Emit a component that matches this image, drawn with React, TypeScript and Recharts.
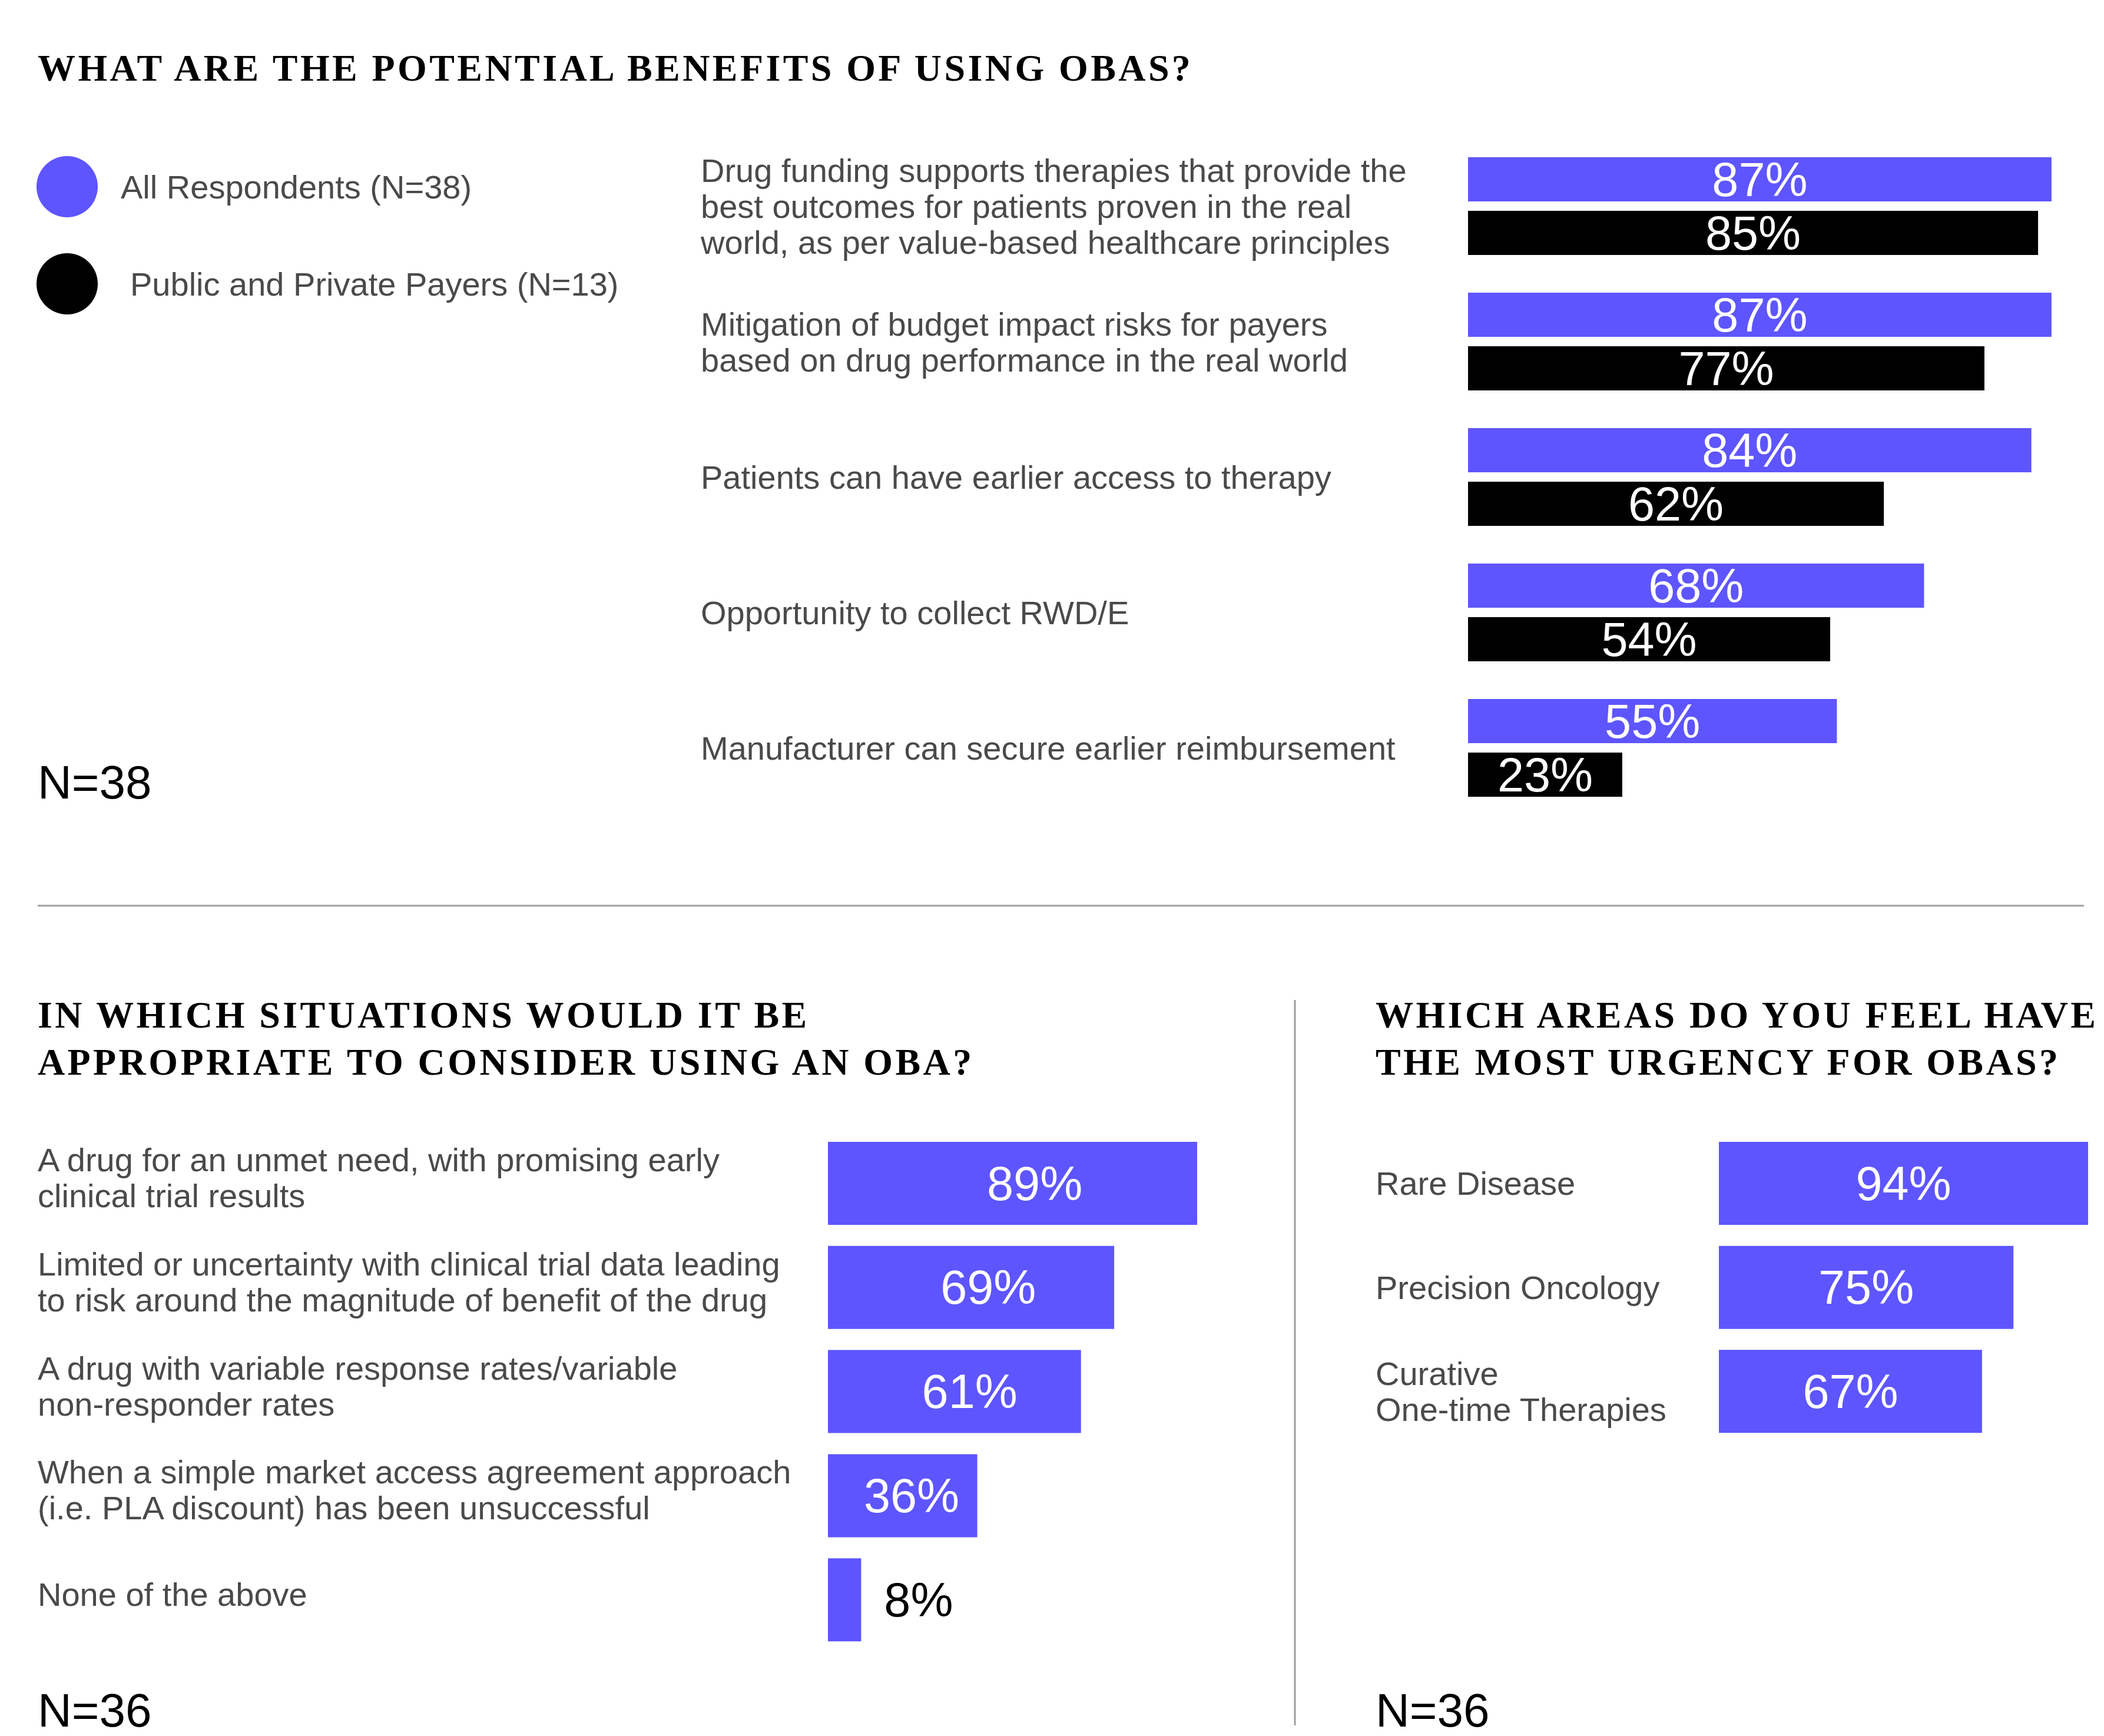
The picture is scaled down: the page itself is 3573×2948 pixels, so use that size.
import { BarChart, Bar, XAxis, YAxis, LabelList } from "recharts";

const BENEFITS = [
  "Drug funding supports therapies that provide the\nbest outcomes for patients proven in the real\nworld, as per value-based healthcare principles",
  "Mitigation of budget impact risks for payers\nbased on drug performance in the real world",
  "Patients can have earlier access to therapy",
  "Opportunity to collect RWD/E",
  "Manufacturer can secure earlier reimbursement",
];
const ALL_RESPONDENTS = [87, 87, 84, 68, 55];
const PAYERS = [85, 77, 62, 54, 23];

const SITUATIONS = [
  "A drug for an unmet need, with promising early\nclinical trial results",
  "Limited or uncertainty with clinical trial data leading\nto risk around the magnitude of benefit of the drug",
  "A drug with variable response rates/variable\nnon-responder rates",
  "When a simple market access agreement approach\n(i.e. PLA discount) has been unsuccessful",
  "None of the above",
];
const SITUATION_PCT = [89, 69, 61, 36, 8];

const AREAS = ["Rare Disease", "Precision Oncology", "Curative\nOne-time Therapies"];
const AREA_PCT = [94, 75, 67];

const SERIES = [
  { key: "all", name: "All Respondents (N=38)", color: "#5E55FE" },
  { key: "payers", name: "Public and Private Payers (N=13)", color: "#000000" },
];

const SANS = "'Liberation Sans', Arial, sans-serif";
const SERIF = "'Liberation Serif', 'Times New Roman', serif";
const GREY = "#4a4a4a";
const BLUE = "#5E55FE";

const benefitData = BENEFITS.map((label, i) => ({
  label,
  all: ALL_RESPONDENTS[i],
  payers: PAYERS[i],
}));
const situationData = SITUATIONS.map((label, i) => ({ label, pct: SITUATION_PCT[i] }));
const areaData = AREAS.map((label, i) => ({ label, pct: AREA_PCT[i] }));

function WrappedTick(props: any) {
  const { y, payload, left, dy = 0 } = props;
  const lines = String(payload.value).split("\n");
  const lh = 61;
  const start = y - ((lines.length - 1) * lh) / 2 + dy;
  return (
    <text fill={GREY} fontSize={56} fontFamily={SANS} dominantBaseline="central">
      {lines.map((l: string, i: number) => (
        <tspan key={i} x={left} y={start + i * lh}>
          {l}
        </tspan>
      ))}
    </text>
  );
}

// value label; pos = fraction of the bar width where the text is centred
function valueLabel(pos: number) {
  return (p: any) => {
    const { x, y, width, height, value } = p;
    const small = width < 100;
    return (
      <text
        x={small ? x + width + 39 : x + width * pos}
        y={y + height / 2}
        textAnchor={small ? "start" : "middle"}
        dominantBaseline="central"
        fill={small ? "#000" : "#fff"}
        fontSize={81}
        fontFamily={SANS}
      >
        {value}%
      </text>
    );
  };
}

function Title({ x, y, lines }: { x: number; y: number; lines: string[] }) {
  return (
    <text x={x} y={y} fontFamily={SERIF} fontWeight={700} fontSize={64} letterSpacing={4.4} fill="#000">
      {lines.map((l, i) => (
        <tspan key={i} x={x} y={y + i * 80}>
          {l}
        </tspan>
      ))}
    </text>
  );
}

export default function App() {
  return (
    <div
      style={{
        position: "absolute",
        left: 0,
        top: 0,
        width: 3573,
        height: 2948,
        background: "#fff",
        overflow: "hidden",
      }}
    >
      <svg width={3573} height={2948} style={{ position: "absolute", left: 0, top: 0 }}>
        <Title x={64} y={137} lines={["WHAT ARE THE POTENTIAL BENEFITS OF USING OBAS?"]} />
        <Title x={64} y={1745} lines={["IN WHICH SITUATIONS WOULD IT BE", "APPROPRIATE TO CONSIDER USING AN OBA?"]} />
        <Title x={2336} y={1745} lines={["WHICH AREAS DO YOU FEEL HAVE", "THE MOST URGENCY FOR OBAS?"]} />
        <text x={64} y={1356} fontSize={80} fontFamily={SANS} fill="#000">N=38</text>
        <text x={64} y={2932} fontSize={80} fontFamily={SANS} fill="#000">N=36</text>
        <text x={2336} y={2932} fontSize={80} fontFamily={SANS} fill="#000">N=36</text>
        <line x1={64} x2={3539} y1={1538} y2={1538} stroke="#a0a0a0" strokeWidth={3} />
        <line x1={2199} x2={2199} y1={1698} y2={2930} stroke="#a0a0a0" strokeWidth={3} />
        {SERIES.map((s, i) => (
          <g key={s.key}>
            <circle cx={114} cy={317 + i * 165} r={52} fill={s.color} />
            <text
              x={i === 0 ? 205 : 221}
              y={317 + i * 165}
              dominantBaseline="central"
              fontSize={56}
              fontFamily={SANS}
              fill={GREY}
            >
              {s.name}
            </text>
          </g>
        ))}
      </svg>

      <div style={{ position: "absolute", left: 0, top: 0 }}>
        <BarChart
          width={3573}
          height={1400}
          data={benefitData}
          layout="vertical"
          margin={{ top: 235, right: 55, bottom: 15, left: 0 }}
          barSize={75}
          barGap={16}
        >
          <XAxis type="number" domain={[0, 90]} hide />
          <YAxis
            type="category"
            dataKey="label"
            width={2493}
            axisLine={false}
            tickLine={false}
            interval={0}
            tick={(p: any) => <WrappedTick {...p} left={1190} />}
          />
          {SERIES.map((s) => (
            <Bar key={s.key} dataKey={s.key} name={s.name} fill={s.color} isAnimationActive={false}>
              <LabelList dataKey={s.key} content={valueLabel(0.5)} />
            </Bar>
          ))}
        </BarChart>
      </div>

      <div style={{ position: "absolute", left: 0, top: 1600 }}>
        <BarChart
          width={2200}
          height={1348}
          data={situationData}
          layout="vertical"
          margin={{ top: 321, right: 89.5, bottom: 143, left: 0 }}
          barSize={141}
        >
          <XAxis type="number" domain={[0, 100]} hide />
          <YAxis
            type="category"
            dataKey="label"
            width={1406}
            axisLine={false}
            tickLine={false}
            interval={0}
            tick={(p: any) => <WrappedTick {...p} left={64} dy={-10} />}
          />
          <Bar dataKey="pct" fill={BLUE} isAnimationActive={false}>
            <LabelList dataKey="pct" content={valueLabel(0.56)} />
          </Bar>
        </BarChart>
      </div>

      <div style={{ position: "absolute", left: 2200, top: 1600 }}>
        <BarChart
          width={1373}
          height={1348}
          data={areaData}
          layout="vertical"
          margin={{ top: 321, right: 27, bottom: 497, left: 0 }}
          barSize={141}
        >
          <XAxis type="number" domain={[0, 94]} hide />
          <YAxis
            type="category"
            dataKey="label"
            width={719}
            axisLine={false}
            tickLine={false}
            interval={0}
            tick={(p: any) => <WrappedTick {...p} left={136} />}
          />
          <Bar dataKey="pct" fill={BLUE} isAnimationActive={false}>
            <LabelList dataKey="pct" content={valueLabel(0.5)} />
          </Bar>
        </BarChart>
      </div>
    </div>
  );
}
